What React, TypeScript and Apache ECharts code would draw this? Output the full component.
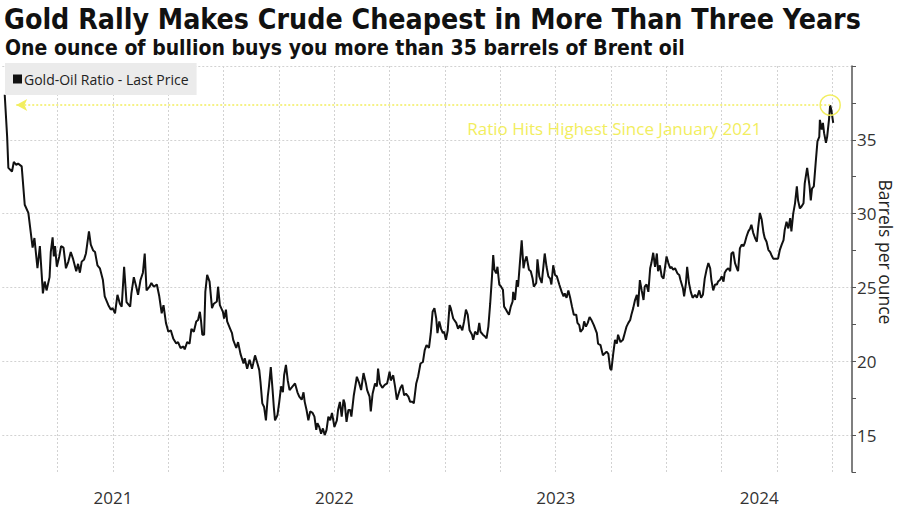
import React, { useEffect, useRef } from "react";
import * as echarts from "echarts";

// Days since 2021-01-01
const days = [
  4, 8, 10, 16, 19, 23, 26, 32, 37, 43,
  50, 53, 58, 62, 67, 70, 73, 78, 80, 83,
  85, 87, 90, 94, 97, 101, 105, 109, 113, 117,
  122, 125, 128, 131, 135, 138, 140, 143, 146, 150,
  153, 157, 161, 166, 169, 175, 179, 182, 186, 190,
  194, 197, 201, 205, 211, 213, 217, 221, 224, 228,
  232, 235, 238, 243, 246, 250, 255, 259, 263, 266,
  270, 274, 278,
  282, 287, 290, 294, 299, 301, 305, 309, 312, 316,
  320, 323, 326, 328, 330, 333, 335, 338, 342, 346,
  349, 354, 356, 359, 364, 366, 369, 371, 376, 379,
  381, 386, 389, 393, 398, 400, 404, 408, 412, 414,
  417, 421, 424, 426, 429, 432, 435, 438, 440, 443,
  446, 448, 450, 454, 457, 460, 463, 465, 468, 471,
  474, 476, 479, 483, 487, 490, 494, 497, 499, 502,
  505, 508, 512, 515, 518, 520, 523, 526, 529, 532,
  535, 538, 541, 544, 548, 552, 554, 557, 560, 563,
  565, 568, 571,
  574, 576, 580, 585, 589, 592, 596, 600, 602, 606,
  608, 611, 615, 618, 620, 623, 627, 631, 635, 639,
  641, 645, 648, 651, 655, 657, 660, 663, 666, 670,
  673, 677, 679, 683, 686, 690, 694, 697, 700, 704,
  707, 710, 713, 716, 718, 721, 724, 727, 729, 732,
  735, 738, 740, 744, 749, 752, 755, 759, 762, 765,
  768, 771, 775, 777, 780, 784, 787, 789, 793, 796,
  799, 802, 805, 808, 810, 812, 815, 817, 820, 823,
  826, 828, 831, 833, 836, 839, 842, 843, 846, 849,
  851, 854, 857, 860, 862, 865, 869, 872, 875, 877,
  881, 883, 886,
  890, 893, 895, 898, 901, 904, 906, 909, 912, 915,
  919, 923, 926, 928, 931, 934, 937, 940, 943, 947,
  949, 952, 954, 958, 960, 963, 966, 969, 972, 976,
  981, 983, 987, 991, 993, 997, 1000, 1003, 1005, 1008,
  1011, 1014, 1016, 1020, 1024, 1027, 1030, 1033, 1036, 1038,
  1041, 1044, 1047, 1049, 1052, 1055, 1058, 1060, 1063, 1066,
  1069, 1071, 1074, 1077, 1080, 1082, 1085, 1088, 1091, 1093,
  1096, 1099, 1102, 1104, 1107, 1110, 1114, 1117, 1119, 1123,
  1125, 1128, 1130, 1133, 1136, 1139, 1143, 1146, 1150, 1153,
  1156, 1159, 1162, 1165, 1168, 1170, 1173, 1176, 1179, 1181,
  1184, 1187, 1190, 1192, 1195, 1198, 1201, 1203, 1206, 1209,
  1212, 1214, 1217, 1220, 1223, 1225, 1228, 1231, 1234, 1236,
  1239, 1242, 1245, 1247, 1250, 1253, 1256, 1258, 1261, 1264,
  1267, 1269, 1272, 1277, 1280, 1283, 1286, 1289, 1291, 1294,
  1297, 1300, 1302, 1305,
  1308, 1311, 1313, 1316, 1319, 1322, 1324, 1328, 1332, 1334,
  1336, 1339, 1342, 1345, 1348, 1349, 1352, 1354, 1356, 1359,
  1361, 1364, 1366, 1368, 1371,
];

// Gold-Oil ratio (barrels per ounce)
const ratio = [
  38.05, 35.2, 33.1, 32.85, 33.5, 33.3, 33.4, 33.2, 30.6, 30.05,
  27.7, 28.35, 26.3, 27.8, 24.6, 25.4, 24.8, 25.7, 27.4, 28.4,
  27.1, 27.8, 26.4, 27.1, 27.8, 27.7, 26.3, 26.75, 27.4, 26.9,
  26.1, 26.6, 26.0, 26.75, 26.9, 27.3, 27.9, 28.8, 27.9, 27.5,
  27.4, 26.5, 26.3, 25.5, 24.4, 23.8, 23.5, 23.6, 23.25, 24.5,
  23.9, 23.7, 26.4, 24.0, 23.7, 24.6, 25.7, 25.05, 24.5, 25.5,
  26.0, 27.3, 24.8, 25.05, 25.3, 25.05, 25.2, 24.4, 23.25, 23.8,
  22.6, 22.0, 22.1,
  21.55, 21.2, 21.3, 20.9, 21.0, 20.8, 21.3, 21.2, 22.2, 22.0,
  22.7, 22.8, 23.35, 22.7, 21.8, 21.8, 24.7, 25.85, 25.4, 23.6,
  23.9, 24.05, 25.05, 23.8, 23.35, 22.9, 23.5, 22.7, 22.2, 21.9,
  21.45, 20.9, 21.3, 20.5, 19.85, 20.2, 19.5, 20.1, 19.5, 19.85,
  20.4, 19.85, 19.4, 18.6, 17.15, 16.9, 16.0, 17.6, 18.3, 19.6,
  18.05, 16.9, 16.0, 16.35, 17.25, 18.3, 17.9, 19.05, 19.75, 18.7,
  18.05, 18.15, 18.3, 18.5, 17.9, 17.6, 17.4, 17.9, 17.25, 16.7,
  16.0, 16.6, 16.5, 16.25, 15.35, 15.8, 15.55, 15.1, 15.45, 15.0,
  15.35, 16.25, 16.0, 16.5, 15.55, 16.0, 16.7, 17.25, 16.25, 17.4,
  17.15, 15.9, 16.7,
  16.7, 16.25, 17.7, 18.95, 18.5, 18.05, 19.2, 18.5, 18.05, 17.6,
  16.6, 17.8, 18.5, 18.3, 19.5, 18.5, 18.2, 18.4, 18.5, 19.3,
  18.7, 19.05, 18.3, 17.4, 17.95, 18.2, 18.4, 17.7, 17.8, 17.6,
  17.25, 17.25, 17.15, 18.5, 18.95, 19.85, 19.95, 20.75, 21.1, 20.9,
  21.9, 23.35, 23.6, 22.9, 21.9, 22.7, 22.2, 21.9, 22.0, 21.45,
  22.1, 23.8, 23.6, 22.9, 22.6, 22.2, 22.45, 22.1, 22.7, 23.5,
  23.15, 22.1, 21.8, 21.45, 22.0, 21.8, 22.6, 22.0, 21.8, 21.7,
  21.55, 22.35, 23.9, 25.75, 27.2, 26.2, 25.95, 26.4, 25.2, 25.05,
  24.85, 23.7, 23.5, 23.35, 23.15, 23.7, 24.05, 24.7, 24.15, 25.5,
  25.05, 26.65, 28.2, 26.3, 26.75, 27.1, 26.2, 26.1, 25.6, 25.05,
  25.3, 26.9, 25.75,
  25.3, 26.5, 27.3, 26.4, 25.75, 25.6, 25.2, 26.5, 25.85, 25.75,
  25.2, 24.7, 24.4, 24.6, 24.3, 24.8, 24.3, 23.7, 23.15, 23.15,
  22.6, 22.45, 22.0, 22.2, 22.7, 22.35, 22.6, 23.0, 22.8, 22.45,
  21.9, 21.2, 21.1, 20.4, 20.5, 20.65, 20.5, 19.5, 19.4, 20.5,
  21.45, 21.2, 21.8, 21.3, 21.45, 21.9, 22.35, 22.6, 22.8, 23.15,
  23.6, 24.15, 24.5, 23.7, 25.5, 24.8, 24.15, 25.05, 25.2, 24.7,
  26.3, 26.65, 27.35, 26.4, 27.3, 26.1, 26.5, 25.75, 25.6, 26.2,
  27.1, 26.65, 26.3, 26.4, 26.2, 26.3, 25.95, 25.85, 25.5, 24.95,
  24.4, 25.3, 26.4, 25.3, 24.7, 24.3, 24.5, 24.3, 24.8, 24.3,
  24.5, 25.6, 26.2, 26.65, 26.3, 25.5, 24.8, 25.2, 25.2, 25.4,
  25.5, 25.75, 25.4, 26.0, 26.2, 26.3, 26.1, 27.3, 27.4, 26.65,
  26.3, 26.1, 27.65, 27.9, 27.8, 28.0, 28.45, 28.8, 29.0, 29.25,
  28.7, 28.35, 28.1, 29.0, 30.05, 29.6, 28.7, 28.35, 28.1, 27.55,
  27.4, 27.2, 26.95, 26.95, 26.95, 27.55, 27.9, 28.2, 28.9, 29.45,
  29.0, 29.7, 28.8, 30.0,
  30.7, 31.85, 30.9, 30.35, 30.5, 30.7, 32.05, 33.1, 31.85, 30.9,
  31.7, 31.85, 33.4, 34.9, 35.2, 36.35, 35.7, 36.15, 35.45, 34.8,
  35.2, 36.35, 37.35, 37.0, 36.15,
];

const seriesName = "Gold-Oil Ratio - Last Price";
const titleText = "Gold Rally Makes Crude Cheapest in More Than Three Years";
const subtitleText = "One ounce of bullion buys you more than 35 barrels of Brent oil";
const yAxisName = "Barrels per ounce";
const annotationText = "Ratio Hits Highest Since January 2021";
const startYear = 2021;
const axisEndDay = 1402; // right edge of the time axis (days since 2021-01-01)
const arrowFromDay = 23; // where the "highest since" arrow points back to
const YEAR = 365.25;

const titleFont = "'DejaVu Sans Condensed', 'DejaVu Sans', sans-serif";
const labelFont = "'Open Sans', 'Noto Sans', sans-serif";
const yellow = "#f2ee5e";

export default function App() {
  const ref = useRef<HTMLDivElement>(null);

  useEffect(() => {
    if (!ref.current) return;
    const chart = echarts.init(ref.current, null, { renderer: "svg" });
    const data = days.map((d, i) => [d, ratio[i]]);

    // peak in the latest year
    let peakIdx = -1;
    ratio.forEach((v, i) => {
      if (days[i] > 3 * YEAR && (peakIdx < 0 || v > ratio[peakIdx])) peakIdx = i;
    });
    const peakDay = days[peakIdx];
    const peakVal = ratio[peakIdx];

    // year labels centred on the visible part of each year
    const yearCenters: number[] = [];
    for (let y = 0; y * YEAR < axisEndDay; y++) {
      const s = y * YEAR;
      const e = Math.min((y + 1) * YEAR, axisEndDay);
      yearCenters.push((s + e) / 2);
    }

    const option: any = {
      animation: false,
      backgroundColor: "#ffffff",
      title: [
        {
          text: titleText,
          left: 4,
          top: 5,
          padding: 0,
          textStyle: { fontFamily: titleFont, fontWeight: "bold", fontSize: 28.3, color: "#111" },
        },
        {
          text: subtitleText,
          left: 5,
          top: 37,
          padding: 0,
          textStyle: { fontFamily: titleFont, fontWeight: "bold", fontSize: 21, color: "#111" },
        },
      ],
      legend: {
        data: [seriesName],
        left: 5,
        top: 63,
        padding: [9, 8, 9, 8],
        backgroundColor: "#ebebeb",
        icon: "rect",
        itemWidth: 9,
        itemHeight: 9,
        itemGap: 4,
        selectedMode: false,
        textStyle: { fontFamily: labelFont, fontSize: 14, color: "#222", padding: [0, 0, 0, -3] },
      },
      graphic: [
        {
          type: "text",
          x: 886,
          y: 252,
          rotation: -Math.PI / 2,
          silent: true,
          style: {
            text: yAxisName,
            fill: "#222",
            font: `17.5px ${labelFont}`,
            align: "center",
            verticalAlign: "middle",
          },
        },
      ],
      grid: { left: 2.3, right: 48, top: 66, bottom: 38, containLabel: false, outerBoundsMode: "none" },
      xAxis: {
        type: "value",
        min: 0,
        max: axisEndDay,
        interval: YEAR / 4,
        axisLine: { show: false, onZero: false },
        axisTick: { show: false },
        splitLine: {
          show: true,
          showMinLine: false,
          showMaxLine: false,
          lineStyle: { color: "#d2d2d2", type: [2, 2], width: 1 },
        },
        axisLabel: {
          customValues: yearCenters,
          formatter: (v: number) => String(startYear + Math.floor(v / YEAR)),
          fontFamily: labelFont,
          fontSize: 17,
          color: "#333",
          margin: 17,
        },
      },
      yAxis: {
        type: "value",
        position: "right",
        min: 12.5,
        max: 40,
        interval: 2.5,
        axisLine: { show: true, onZero: false, lineStyle: { color: "#555", width: 1.5 } },
        axisTick: { show: true, length: 4, lineStyle: { color: "#555" } },
        splitLine: {
          show: true,
          lineStyle: { color: ["rgba(0,0,0,0)", "#d2d2d2"], type: [2, 2], width: 1 },
        },
        axisLabel: {
          formatter: (v: number) => (v % 5 === 0 && v < 40 ? String(v) : ""),
          fontFamily: labelFont,
          fontSize: 17,
          color: "#333",
          margin: 5,
        },
      },
      series: [
        {
          name: seriesName,
          type: "line",
          data,
          showSymbol: false,
          symbol: "none",
          lineStyle: { color: "#111", width: 2 },
          itemStyle: { color: "#111" },
          markLine: {
            silent: true,
            symbol: ["none", "none"],
            label: { show: false },
            lineStyle: { color: yellow, type: [2, 2], width: 1.5 },
            data: [
              [
                { coord: [arrowFromDay, peakVal], symbol: "arrow", symbolSize: [9, 11] },
                { coord: [peakDay, peakVal], symbol: "none" },
              ],
            ],
          },
          markPoint: {
            silent: true,
            symbol: "circle",
            symbolSize: 20,
            itemStyle: { color: "rgba(0,0,0,0)", borderColor: yellow, borderWidth: 1.5 },
            label: {
              show: true,
              formatter: annotationText,
              position: [-58, 34],
              align: "right",
              verticalAlign: "middle",
              color: yellow,
              fontFamily: labelFont,
              fontSize: 17,
            },
            data: [{ coord: [peakDay, peakVal] }],
          },
        },
      ],
    };

    chart.setOption(option);
    return () => chart.dispose();
  }, []);

  return (
    <div
      ref={ref}
      style={{ position: "fixed", left: 0, top: 0, width: 900, height: 510, background: "#fff" }}
    />
  );
}
